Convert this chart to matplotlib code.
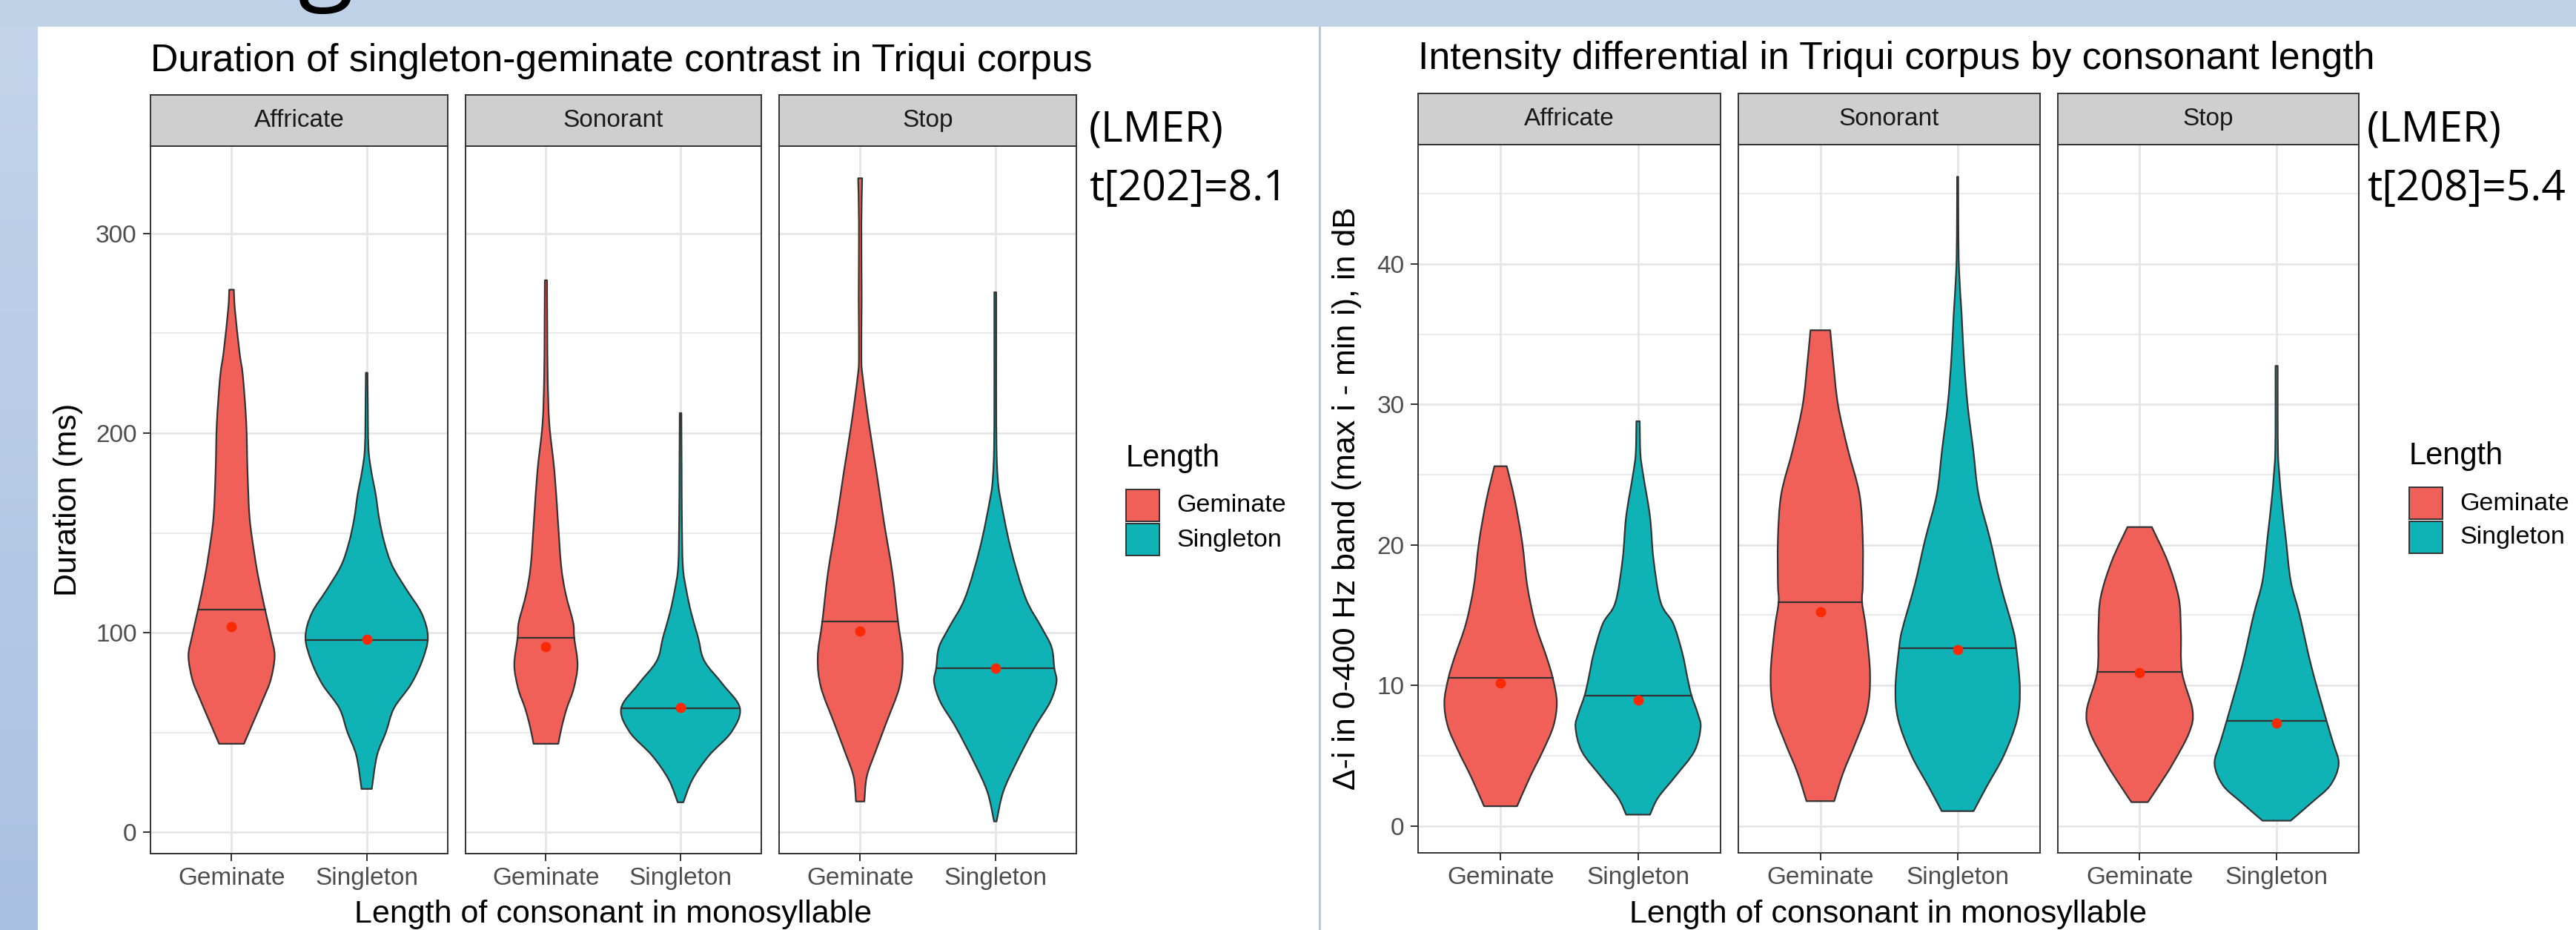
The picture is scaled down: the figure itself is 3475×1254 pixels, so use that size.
import numpy as np
import matplotlib
matplotlib.use("Agg")
import matplotlib.pyplot as plt
from matplotlib.patches import PathPatch, Rectangle
from matplotlib.path import Path
from matplotlib.colors import LinearSegmentedColormap

plt.rcParams['font.family'] = ['Liberation Sans', 'DejaVu Sans']

# ---------------------------------------------------------------- data
manners = ["Affricate", "Sonorant", "Stop"]
lengths = ["Geminate", "Singleton"]

# Duration chart: violin outlines
# (value in ms, half-width in x units)
dur_aff_gem_y = [271.8, 261.8, 240.4, 228.5, 204.8, 181.0, 157.3, 138.2, 126.4, 111.6, 97.8, 88.3, 76.5, 67.0, 55.1, 44.4]
dur_aff_gem_w = [0.017, 0.025, 0.059, 0.084, 0.109, 0.118, 0.134, 0.172, 0.202, 0.248, 0.294, 0.319, 0.290, 0.235, 0.160, 0.092]
dur_aff_sin_y = [230.2, 216.7, 192.9, 181.0, 169.2, 157.3, 145.4, 133.6, 121.7, 109.7, 97.8, 86.0, 74.1, 62.2, 50.3, 38.4, 21.8]
dur_aff_sin_w = [0.006, 0.008, 0.013, 0.034, 0.067, 0.092, 0.130, 0.189, 0.294, 0.407, 0.453, 0.411, 0.327, 0.202, 0.143, 0.076, 0.038]
dur_son_gem_y = [276.5, 252.3, 228.5, 204.8, 181.0, 157.3, 133.6, 119.4, 105.2, 97.6, 83.9, 72.0, 62.2, 53.0, 44.4]
dur_son_gem_w = [0.008, 0.010, 0.013, 0.025, 0.063, 0.088, 0.113, 0.147, 0.202, 0.210, 0.235, 0.206, 0.155, 0.118, 0.092]
dur_son_sin_y = [210.0, 181.0, 157.3, 133.6, 121.7, 109.7, 97.8, 86.0, 74.1, 62.2, 50.3, 38.4, 26.5, 15.1]
dur_son_sin_w = [0.006, 0.008, 0.010, 0.017, 0.042, 0.080, 0.130, 0.176, 0.315, 0.441, 0.378, 0.210, 0.088, 0.021]
dur_stp_gem_y = [327.6, 304.7, 267.3, 237.4, 227.4, 205.0, 180.0, 155.1, 130.2, 105.7, 87.8, 72.9, 55.4, 40.4, 28.0, 15.5]
dur_stp_gem_w = [0.015, 0.009, 0.011, 0.009, 0.020, 0.064, 0.122, 0.177, 0.238, 0.280, 0.314, 0.291, 0.196, 0.113, 0.049, 0.031]
dur_stp_sin_y = [270.5, 242.3, 217.3, 192.4, 177.5, 167.5, 142.6, 117.6, 102.7, 92.7, 82.2, 75.3, 65.3, 52.8, 35.4, 20.4, 5.5]
dur_stp_sin_w = [0.007, 0.007, 0.007, 0.009, 0.018, 0.037, 0.113, 0.223, 0.342, 0.417, 0.437, 0.453, 0.406, 0.293, 0.159, 0.059, 0.009]
dur_medians = [111.6, 96.4, 97.6, 62.2, 105.7, 82.2]
dur_means = [103.1, 96.6, 93.1, 62.4, 100.9, 82.2]

# Intensity chart (value in dB, half-width in x units)
int_aff_gem_y = [25.6, 23.2, 20.2, 17.1, 14.4, 12.0, 10.5, 8.8, 7.1, 5.3, 3.5, 1.4]
int_aff_gem_w = [0.045, 0.103, 0.157, 0.194, 0.252, 0.335, 0.380, 0.409, 0.384, 0.306, 0.215, 0.120]
int_aff_sin_y = [28.8, 26.5, 25.0, 22.0, 19.0, 15.9, 14.4, 12.3, 10.5, 9.3, 8.0, 7.0, 5.3, 3.5, 2.0, 0.8]
int_aff_sin_w = [0.012, 0.017, 0.037, 0.087, 0.112, 0.165, 0.256, 0.322, 0.360, 0.388, 0.434, 0.455, 0.409, 0.269, 0.145, 0.087]
int_son_gem_y = [35.28, 33.20, 30.00, 26.81, 23.60, 20.41, 17.21, 15.93, 14.00, 10.81, 8.25, 6.01, 3.77, 1.76]
int_son_gem_w = [0.072, 0.092, 0.128, 0.200, 0.285, 0.309, 0.309, 0.304, 0.333, 0.362, 0.342, 0.260, 0.166, 0.101]
int_son_sin_y = [46.2, 42.80, 39.60, 36.40, 33.20, 30.00, 26.81, 23.60, 20.41, 17.21, 14.00, 12.63, 9.85, 7.61, 5.05, 2.81, 1.05]
int_son_sin_w = [0.004, 0.005, 0.010, 0.029, 0.046, 0.072, 0.113, 0.152, 0.236, 0.311, 0.403, 0.427, 0.453, 0.434, 0.338, 0.212, 0.116]
int_stp_gem_y = [21.27, 18.81, 16.25, 14.01, 10.97, 8.25, 6.65, 4.41, 2.81, 1.69]
int_stp_gem_w = [0.089, 0.205, 0.285, 0.301, 0.309, 0.386, 0.362, 0.241, 0.137, 0.060]
int_stp_sin_y = [32.74, 29.56, 26.53, 25.01, 23.19, 20.47, 17.43, 15.01, 11.37, 7.49, 5.92, 4.40, 2.89, 1.67, 0.37]
int_stp_sin_w = [0.008, 0.008, 0.010, 0.020, 0.036, 0.067, 0.103, 0.168, 0.253, 0.364, 0.412, 0.453, 0.392, 0.257, 0.103]
int_medians = [10.52, 9.28, 15.93, 12.63, 10.97, 7.49]
int_means = [10.16, 8.95, 15.22, 12.53, 10.90, 7.34]

dur_ticks = [0, 100, 200, 300]
int_ticks = [0, 10, 20, 30, 40]

# ---------------------------------------------------------------- style
W, H = 3475, 1254
FILL = {"Geminate": "#F15F59", "Singleton": "#0FB2B5"}
DARK = "#333333"
GRID = "#E6E6E6"
SLIDE = "#BFD2E7"

fig = plt.figure(figsize=(W / 100, H / 100), dpi=100)
fig.patch.set_facecolor(SLIDE)

# canvas axis in pixel coordinates (origin top-left) for slide decoration
cv = fig.add_axes([0, 0, 1, 1], zorder=-5)
cv.set_xlim(0, W)
cv.set_ylim(H, 0)
cv.axis('off')

grad = np.linspace(0, 1, 256).reshape(-1, 1)
cmap = LinearSegmentedColormap.from_list("slide", ["#C3D4EA", "#A9C1E1"])
cv.imshow(grad, cmap=cmap, extent=[0, 51, H, 36], aspect='auto', zorder=0)
cv.add_patch(Rectangle((51, 36), 1728, H - 36, facecolor="white", edgecolor="none", zorder=1))
cv.add_patch(Rectangle((1782, 36), W - 1782, H - 36, facecolor="white", edgecolor="none", zorder=1))
cv.add_patch(Rectangle((1779, 36), 3, H - 36, facecolor="#B4C8E6", edgecolor="none", zorder=1))
# bottom of the slide heading, cut off by the top edge
cv.text(402, -14, "g", fontsize=100, family="Open Sans", ha='left', va='baseline', zorder=2)


def frac(left, top, right, bottom):
    return [left / W, 1 - bottom / H, (right - left) / W, (bottom - top) / H]


def curve_through(pts):
    # smooth cubic segments through the read outline points
    out = []
    n = len(pts)
    for i in range(n - 1):
        p0 = pts[max(i - 1, 0)]
        p1, p2 = pts[i], pts[i + 1]
        p3 = pts[min(i + 2, n - 1)]
        c1 = p1 + (p2 - p0) / 6.0
        c2 = p2 - (p3 - p1) / 6.0
        c1[0] = max(c1[0], 0.002)
        c2[0] = max(c2[0], 0.002)
        out += [c1, c2, p2.copy()]
    return out


def draw_violin(ax, pos, ys, ws, color, med, mean):
    ys = np.asarray(ys, float)
    ws = np.asarray(ws, float)
    side = np.column_stack([ws, ys])
    down = curve_through(side)
    up = curve_through(side[::-1])
    verts = [(pos - ws[0], ys[0])]
    codes = [Path.MOVETO]
    for w, y in down:
        verts.append((pos - w, y))
    codes += [Path.CURVE4] * len(down)
    verts.append((pos + ws[-1], ys[-1]))
    codes.append(Path.LINETO)
    for w, y in up:
        verts.append((pos + w, y))
    codes += [Path.CURVE4] * len(up)
    verts.append((pos - ws[0], ys[0]))
    codes.append(Path.CLOSEPOLY)
    ax.add_patch(PathPatch(Path(verts, codes), facecolor=color, edgecolor=DARK,
                           lw=1.6, joinstyle='round', zorder=3))
    mw = np.interp(med, ys[::-1], ws[::-1])
    ax.plot([pos - mw, pos + mw], [med, med], color=DARK, lw=1.6, zorder=4)
    ax.plot(pos, mean, 'o', color="#FA2A05", ms=10, mec='none', zorder=5)


def facet_chart(lefts, rights, top, bottom, strip_top, profiles, medians, means,
                ticks, minor, ylabel, ylabel_x, title, title_y, leg_x, leg_y,
                stat_x, stat_text):
    all_y = np.concatenate([np.asarray(p) for p in profiles[0::2]])
    lo, hi = all_y.min(), all_y.max()
    pad = 0.05 * (hi - lo)
    for i, manner in enumerate(manners):
        ax = fig.add_axes(frac(lefts[i], top, rights[i], bottom))
        ax.set_xlim(0.4, 2.6)
        ax.set_ylim(lo - pad, hi + pad)
        for y in minor:
            ax.axhline(y, color=GRID, lw=1.2, zorder=0)
        for y in ticks:
            ax.axhline(y, color=GRID, lw=2.0, zorder=0)
        for x in (1, 2):
            ax.axvline(x, color=GRID, lw=2.0, zorder=0)
        for j, length in enumerate(lengths):
            k = 2 * i + j
            draw_violin(ax, j + 1, profiles[4 * i + 2 * j], profiles[4 * i + 2 * j + 1],
                        FILL[length], medians[k], means[k])
        ax.set_xticks([1, 2])
        ax.set_xticklabels(lengths)
        ax.set_yticks(ticks)
        ax.tick_params(labelsize=24, labelcolor="#4D4D4D", color=DARK, width=1.4,
                       length=7.2, pad=6)
        if i == 0:
            ax.set_yticklabels([str(t) for t in ticks])
        else:
            ax.tick_params(axis='y', length=0, labelleft=False)
        for s in ax.spines.values():
            s.set_color(DARK)
            s.set_linewidth(1.4)

        sax = fig.add_axes(frac(lefts[i], strip_top, rights[i], top))
        sax.set_facecolor("#CFCFCF")
        sax.set_xticks([])
        sax.set_yticks([])
        for s in sax.spines.values():
            s.set_color(DARK)
            s.set_linewidth(1.4)
        sax.text(0.5, 0.5, manner, transform=sax.transAxes, ha='center', va='center',
                 fontsize=24, color="#1A1A1A")

    mid = (lefts[0] + rights[-1]) / 2
    cv.text(mid, 1233, "Length of consonant in monosyllable", fontsize=31,
            ha='center', va='center')
    cv.text(ylabel_x, (top + bottom) / 2, ylabel, fontsize=31, rotation=90,
            ha='center', va='center')
    cv.text(lefts[0], title_y, title, fontsize=37.4, ha='left', va='baseline')

    cv.text(leg_x, leg_y, "Length", fontsize=30, ha='left', va='center')
    for j, length in enumerate(lengths):
        ky = leg_y + 42 + j * 46
        cv.add_patch(Rectangle((leg_x, ky), 45, 43, facecolor=FILL[length],
                               edgecolor=DARK, lw=1.4, zorder=3))
        cv.text(leg_x + 68, ky + 22, length, fontsize=24.5, ha='left', va='center', zorder=3)

    cv.text(stat_x, 176, "(LMER)", fontsize=41, family="Open Sans", ha='left', va='center')
    cv.text(stat_x, 256, stat_text, fontsize=41, family="Open Sans", ha='left', va='center')


dur_profiles = [dur_aff_gem_y, dur_aff_gem_w, dur_aff_sin_y, dur_aff_sin_w,
                dur_son_gem_y, dur_son_gem_w, dur_son_sin_y, dur_son_sin_w,
                dur_stp_gem_y, dur_stp_gem_w, dur_stp_sin_y, dur_stp_sin_w]
int_profiles = [int_aff_gem_y, int_aff_gem_w, int_aff_sin_y, int_aff_sin_w,
                int_son_gem_y, int_son_gem_w, int_son_sin_y, int_son_sin_w,
                int_stp_gem_y, int_stp_gem_w, int_stp_sin_y, int_stp_sin_w]

facet_chart([203, 627.5, 1051], [604, 1027, 1452], 197, 1151, 128,
            dur_profiles, dur_medians, dur_means, dur_ticks, [50, 150, 250],
            "Duration (ms)", 92,
            "Duration of singleton-geminate contrast in Triqui corpus", 96,
            1519, 618, 1469, "t[202]=8.1")
facet_chart([1913, 2344.5, 2775.5], [2321, 2752, 3182], 195, 1150, 126,
            int_profiles, int_medians, int_means, int_ticks, [5, 15, 25, 35, 45],
            "\u0394-i in 0-400 Hz band (max i - min i), in dB", 1817,
            "Intensity differential in Triqui corpus by consonant length", 93,
            3250, 615, 3193, "t[208]=5.4")

fig.savefig("out.png", dpi=100, facecolor=fig.get_facecolor())
